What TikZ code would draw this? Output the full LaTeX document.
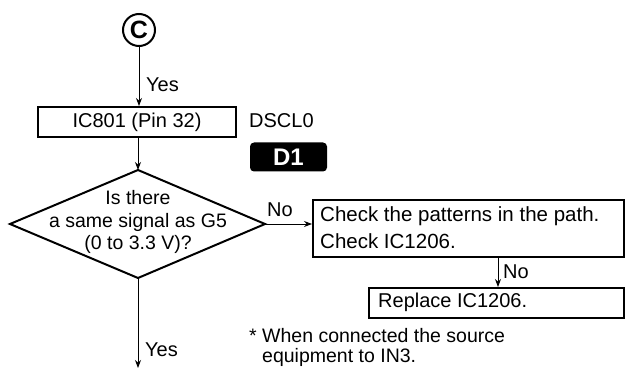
\documentclass[tikz,border=0pt]{standalone}
\usepackage{fontspec}
\setmainfont{Liberation Sans}
\usetikzlibrary{arrows.meta,shapes.geometric}
\begin{document}
\begin{tikzpicture}[x=1pt,y=-1pt,
  txt/.style={font=\fontsize{20}{22}\selectfont, inner sep=0pt},
  box/.style={draw, line width=2pt, inner sep=0pt},
  arr/.style={line width=1pt, -{Stealth[length=8pt,width=6pt]}},
]
\useasboundingbox (0,0) rectangle (625,369);
% connector C
\node[draw, circle, line width=2pt, minimum size=32pt, inner sep=0pt,
      font=\fontsize{25}{25}\selectfont\bfseries] (c) at (139,30) {C};
% IC801 box
\node[box, minimum width=198pt, minimum height=30pt, txt] (ic) at (137,122) {IC801 (Pin 32)};
\node[txt, anchor=west] (dscl) at (249,121) {DSCL0};
\node[fill=black, rounded corners=4pt, minimum width=77pt, minimum height=29pt,
      text=white, font=\fontsize{24}{24}\selectfont\bfseries, inner sep=0pt] (d1) at (288.5,157) {D1};
% diamond
\coordinate (dt) at (138,170);
\coordinate (dr) at (265,224);
\coordinate (db) at (138,278);
\coordinate (dl) at (10,224);
\draw[line width=2pt, line join=miter] (dt) -- (dr) -- (db) -- (dl) -- cycle;
\node[txt, align=center, font=\fontsize{19.5}{22.5}\selectfont] (q) at (138,222)
  {Is there\\a same signal as G5\\(0 to 3.3 V)?};
% right boxes
\node[box, minimum width=311pt, minimum height=57pt, anchor=north west] (chk) at (312,199) {};
\node[txt, anchor=west, align=left, font=\fontsize{20.5}{27}\selectfont] (chkt) at (320,228)
  {Check the patterns in the path.\\Check IC1206.};
\node[box, minimum width=255pt, minimum height=30pt, anchor=north west] (rep) at (368,287) {};
\node[txt, anchor=west] (rept) at (378,302) {Replace IC1206.};
% footnote
\node[txt, anchor=west, align=left, font=\fontsize{19.5}{20}\selectfont] (fn) at (249,347)
  {* When connected the source\\\phantom{* }equipment to IN3.};
% connectors
\draw[arr] (c) -- (ic.north -| c);
\node[txt, anchor=west] (y1) at (146,85) {Yes};
\draw[arr] (ic.south -| dt) -- (dt);
\draw[arr] (dr) -- (chk.west |- dr);
\node[txt, anchor=west] (n1) at (267,210) {No};
\coordinate (cx) at (498,0);
\draw[arr] (chk.south -| cx) -- (rep.north -| cx);
\node[txt, anchor=west] (n2) at (503,272) {No};
\coordinate (end) at (138,368);
\draw[arr] (db) -- (end);
\node[txt, anchor=west] (y2) at (145,350) {Yes};
\end{tikzpicture}
\end{document}
